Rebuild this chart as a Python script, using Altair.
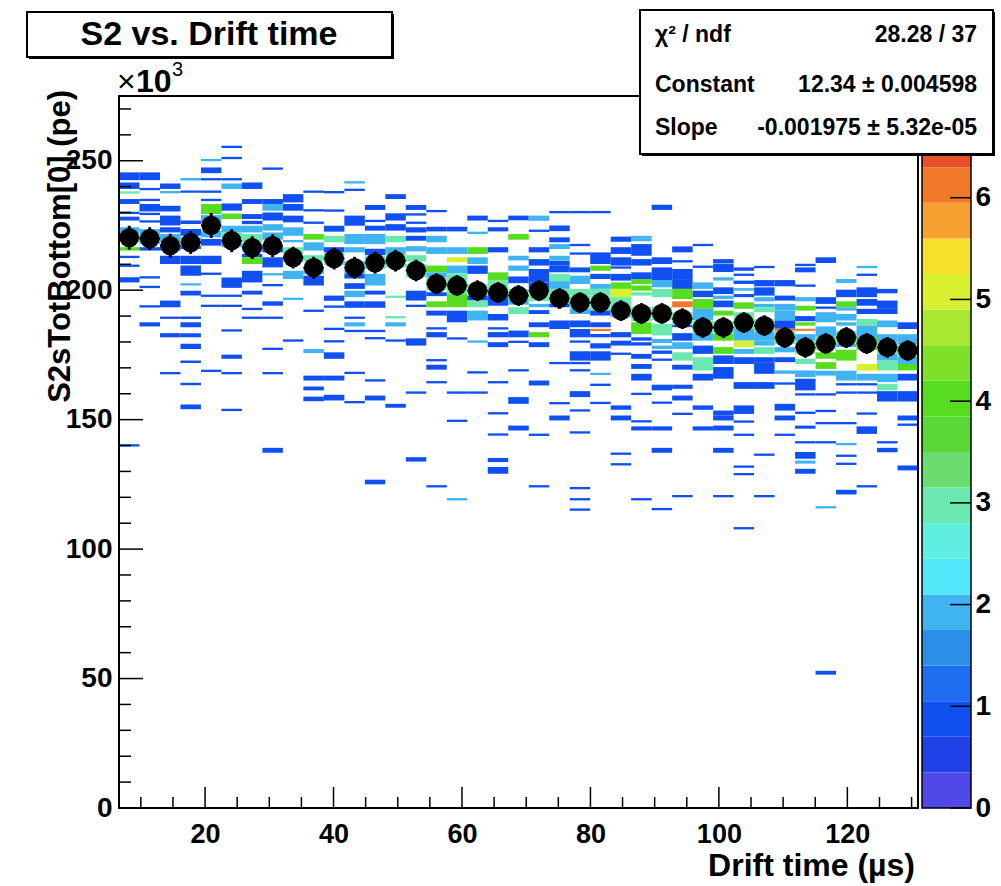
import altair as alt
import pandas as pd

# ---------------- axis ranges / binning ----------------
X_MIN, X_MAX, NXBINS = 6.6, 131.0, 39
Y_MIN, Y_MAX = 0.0, 275.0
Z_MAX, NBANDS = 7.0, 20

x_major = [20, 40, 60, 80, 100, 120]
x_minor = [10, 15, 25, 30, 35, 45, 50, 55, 65, 70, 75, 85, 90, 95, 105, 110, 115, 125, 130]
y_major = [0, 50, 100, 150, 200, 250]
y_minor = [10, 20, 30, 40, 60, 70, 80, 90, 110, 120, 130, 140, 160, 170, 180, 190,
           210, 220, 230, 240, 260, 270]
z_labels = [0, 1, 2, 3, 4, 5, 6]

# profile (black markers): mean of S2 per drift-time bin, in 10^3 pe
profile_mean = [220.3, 219.9, 217.2, 218.4, 225.0, 219.1, 216.4, 217.2, 212.6, 208.7,
                212.2, 208.7, 210.6, 211.4, 207.6, 202.5, 201.8, 199.8, 199.1, 197.9,
                199.8, 196.8, 195.2, 195.2, 192.1, 191.0, 191.0, 189.0, 185.6, 185.6,
                187.5, 186.3, 181.7, 177.9, 179.4, 181.7, 179.4, 177.9, 176.7]
profile_err = [4.6, 4.4, 4.6, 4.4, 4.8, 4.4, 4.4, 4.4, 4.2, 4.2,
               4.2, 4.2, 4.2, 4.2, 4.2, 4.0, 4.0, 4.0, 4.0, 4.0,
               4.0, 4.0, 4.0, 4.0, 4.0, 4.0, 4.0, 4.0, 4.0, 4.0,
               4.0, 4.0, 4.0, 4.0, 4.0, 4.0, 4.0, 4.0, 4.0]

# 2D histogram cells per drift-time column: (y_low, y_high, entries), y in 10^3 pe
col_00 = [(242.5, 245.5, 1), (239.1, 241.6, 1), (237.3, 238.2, 3), (233.3, 235.2, 1), (229.4, 230.3, 1),
          (226.9, 228.4, 1), (221.7, 224.3, 2), (218.5, 221.7, 3), (215.3, 216.6, 4), (212.4, 213.3, 1),
          (209.0, 209.9, 1), (203.0, 205.0, 1), (139.6, 140.5, 1)]
col_01 = [(242.5, 245.5, 1), (238.6, 239.5, 1), (234.4, 235.3, 1), (230.4, 233.3, 1), (229.0, 229.9, 1),
          (226.1, 227.0, 1), (221.0, 223.6, 2), (217.8, 221.0, 2), (215.3, 216.6, 1), (204.5, 205.4, 1),
          (200.8, 201.7, 1), (193.3, 194.2, 1), (186.0, 187.6, 1)]
col_02 = [(239.1, 241.2, 1), (237.4, 238.3, 2), (230.4, 232.6, 1), (225.0, 228.8, 1), (222.3, 224.3, 1),
          (218.5, 221.7, 2), (215.3, 217.8, 1), (210.1, 213.3, 1), (193.4, 196.0, 1), (188.9, 189.8, 1),
          (181.8, 183.4, 1), (167.5, 168.4, 1)]
col_03 = [(242.4, 243.3, 2), (237.6, 238.5, 1), (225.6, 226.9, 1), (221.0, 223.6, 1), (218.5, 220.4, 2),
          (215.9, 217.2, 1), (210.1, 213.3, 1), (205.6, 209.5, 1), (201.8, 202.7, 2), (197.9, 199.8, 1),
          (188.9, 189.8, 1), (185.7, 187.6, 1), (181.8, 183.4, 1), (177.3, 179.3, 1), (171.9, 172.8, 1),
          (163.3, 164.2, 1), (154.0, 155.8, 1)]
col_04 = [(249.8, 250.7, 2), (245.2, 247.4, 1), (242.4, 243.3, 1), (237.6, 238.5, 1), (234.4, 235.3, 1),
          (229.4, 233.3, 4), (226.0, 229.0, 2), (220.4, 223.0, 2), (217.2, 219.8, 1), (210.1, 213.3, 1),
          (205.9, 206.8, 1), (197.4, 198.3, 1), (193.5, 194.4, 1), (168.4, 169.3, 1)]
col_05 = [(254.9, 255.8, 1), (250.6, 251.5, 1), (242.4, 243.3, 1), (239.1, 241.2, 2), (230.7, 233.5, 1),
          (227.5, 229.6, 4), (222.3, 224.9, 2), (220.0, 222.3, 3), (216.6, 218.5, 2), (200.9, 204.9, 1),
          (197.4, 198.3, 1), (193.5, 194.4, 1), (184.0, 184.9, 1), (173.5, 175.1, 1), (167.5, 168.4, 1),
          (153.3, 154.2, 1)]
col_06 = [(239.1, 241.6, 1), (233.3, 235.2, 1), (227.5, 229.4, 1), (225.5, 226.8, 1), (222.3, 224.9, 2),
          (218.5, 221.7, 3), (215.0, 218.0, 2), (212.7, 214.0, 1), (210.1, 212.7, 4), (203.0, 207.5, 1),
          (198.3, 199.8, 1), (192.3, 193.2, 1), (188.9, 189.8, 1)]
col_07 = [(246.5, 247.4, 1), (233.3, 235.2, 1), (230.7, 233.3, 2), (226.9, 230.0, 1), (223.0, 225.5, 2),
          (219.5, 222.3, 2), (214.6, 217.0, 1), (208.8, 212.7, 1), (205.7, 206.6, 2), (201.5, 202.4, 1),
          (194.0, 195.7, 1), (188.9, 189.8, 1), (176.9, 177.8, 1), (167.5, 168.4, 1), (137.2, 139.1, 1)]
col_08 = [(233.9, 237.1, 1), (230.7, 233.3, 1), (226.2, 228.8, 1), (221.0, 224.3, 2), (218.5, 219.4, 2),
          (214.0, 216.6, 3), (211.0, 213.3, 2), (204.3, 207.5, 2), (196.2, 197.1, 2), (180.1, 181.0, 1)]
col_09 = [(237.6, 238.5, 1), (230.4, 231.3, 1), (225.6, 226.5, 1), (219.5, 221.7, 4), (215.3, 218.5, 2),
          (211.0, 213.5, 3), (206.3, 208.8, 2), (201.8, 205.6, 1), (191.6, 192.5, 1), (175.7, 177.3, 2),
          (165.1, 167.0, 1), (161.3, 162.8, 1), (157.1, 158.9, 1)]
col_10 = [(237.4, 238.3, 1), (230.3, 231.2, 1), (222.6, 224.9, 1), (218.5, 221.0, 3), (214.6, 216.6, 1),
          (209.7, 214.6, 3), (195.9, 197.9, 1), (193.2, 194.1, 1), (184.6, 185.5, 1), (179.8, 180.7, 1),
          (173.5, 176.0, 1), (165.1, 167.0, 1), (157.4, 159.6, 1)]
col_11 = [(241.2, 242.1, 2), (238.3, 239.2, 1), (224.9, 228.8, 1), (217.8, 221.7, 2), (214.6, 216.6, 2),
          (206.2, 211.2, 2), (204.5, 206.2, 1), (200.5, 202.7, 1), (197.3, 199.8, 2), (193.2, 195.7, 1),
          (188.9, 189.8, 1), (186.0, 187.6, 2), (183.8, 184.7, 1), (167.6, 168.5, 1), (156.3, 157.2, 1)]
col_12 = [(231.0, 232.9, 1), (226.3, 227.2, 1), (223.0, 224.9, 1), (217.8, 221.7, 2), (213.5, 216.0, 1),
          (208.1, 213.1, 3), (201.8, 206.3, 2), (198.3, 199.8, 1), (193.2, 195.7, 1), (183.8, 184.7, 1),
          (181.0, 181.9, 1), (164.7, 165.6, 1), (157.4, 159.3, 1), (125.0, 126.8, 1)]
col_13 = [(235.2, 237.1, 1), (226.9, 229.7, 1), (223.0, 225.5, 1), (218.5, 221.0, 3), (214.0, 216.6, 2),
          (208.9, 214.0, 3), (197.0, 197.9, 3), (189.1, 190.0, 3), (186.0, 187.6, 2), (180.1, 181.0, 1),
          (154.6, 156.1, 1)]
col_14 = [(231.0, 232.9, 1), (228.8, 229.7, 1), (225.6, 226.5, 1), (222.3, 224.3, 1), (219.1, 221.0, 1),
          (215.0, 217.0, 2), (211.0, 213.5, 3), (205.1, 210.1, 3), (196.0, 199.8, 1), (193.5, 194.4, 1),
          (178.6, 181.4, 1), (160.0, 160.9, 1), (133.8, 135.5, 1)]
col_15 = [(230.1, 231.0, 1), (222.7, 224.5, 1), (218.5, 221.0, 2), (214.0, 216.6, 2), (206.9, 209.5, 4),
          (204.9, 206.9, 2), (200.0, 204.9, 3), (197.7, 199.2, 1), (193.4, 195.7, 4), (190.2, 192.1, 1),
          (184.8, 185.7, 1), (181.8, 183.8, 1), (172.5, 173.4, 1), (169.3, 171.2, 1), (164.0, 164.9, 1),
          (123.8, 124.7, 1)]
col_16 = [(222.7, 224.5, 1), (214.0, 216.6, 2), (210.8, 212.7, 5), (206.5, 209.5, 2), (204.3, 206.5, 3),
          (198.5, 204.3, 3), (193.4, 198.5, 4), (187.6, 192.1, 1), (180.9, 181.8, 1), (160.0, 160.9, 1),
          (149.1, 150.0, 1), (118.8, 119.7, 2)]
col_17 = [(226.9, 228.8, 1), (221.7, 222.6, 2), (214.0, 216.6, 4), (210.1, 212.7, 2), (206.3, 209.5, 1),
          (197.9, 202.3, 3), (196.0, 197.9, 1), (193.4, 196.0, 3), (188.3, 192.1, 2), (179.7, 180.6, 2),
          (167.8, 168.7, 1), (160.0, 160.9, 1)]
col_18 = [(226.3, 227.2, 1), (222.7, 224.3, 1), (214.6, 216.6, 1), (203.7, 206.9, 4), (198.5, 203.7, 3),
          (194.0, 198.5, 1), (188.3, 190.8, 1), (184.8, 185.7, 1), (181.8, 183.8, 1), (178.0, 179.9, 1),
          (164.0, 164.9, 1), (152.0, 152.9, 1), (143.8, 144.7, 1), (133.6, 135.2, 1), (129.1, 131.7, 1)]
col_19 = [(227.0, 228.8, 1), (219.5, 221.7, 4), (211.5, 213.3, 2), (207.5, 209.5, 2), (202.7, 205.3, 1),
          (196.2, 200.5, 3), (194.4, 196.2, 2), (190.8, 193.4, 3), (181.8, 184.4, 1), (179.6, 180.5, 1),
          (168.6, 169.5, 1), (156.1, 158.7, 1), (145.8, 147.7, 1)]
col_20 = [(226.8, 228.8, 2), (222.5, 223.4, 1), (214.6, 216.6, 1), (209.5, 212.0, 1), (203.0, 208.2, 1),
          (200.5, 203.0, 1), (195.8, 200.5, 3), (193.4, 194.7, 2), (190.8, 192.3, 1), (185.7, 187.6, 1),
          (181.8, 183.8, 4), (178.0, 179.9, 1), (163.2, 165.1, 1), (143.7, 144.6, 1), (123.8, 124.7, 1)]
col_21 = [(229.7, 230.6, 1), (222.8, 225.0, 1), (218.5, 220.4, 1), (215.9, 217.8, 2), (211.4, 213.3, 2),
          (209.5, 211.3, 1), (206.9, 209.5, 1), (203.5, 206.3, 3), (200.5, 203.5, 2), (194.7, 200.5, 3),
          (193.4, 194.7, 1), (185.0, 188.3, 1), (171.4, 172.3, 1), (155.9, 156.8, 1), (149.7, 151.6, 1)]
col_22 = [(229.7, 230.6, 1), (217.0, 217.9, 1), (213.7, 214.6, 1), (206.9, 208.8, 1), (202.4, 205.6, 2),
          (197.9, 200.5, 3), (192.8, 197.9, 3), (190.8, 192.8, 2), (185.7, 188.3, 1), (181.8, 185.0, 1),
          (179.7, 180.6, 1), (172.8, 176.4, 1), (171.4, 172.3, 1), (168.6, 169.5, 1), (158.7, 161.0, 1),
          (153.1, 154.0, 1), (144.6, 145.5, 1), (123.1, 124.0, 1), (118.8, 119.7, 1), (114.8, 115.7, 1)]
col_23 = [(229.7, 230.6, 1), (210.1, 214.6, 1), (207.5, 209.5, 4), (204.3, 206.3, 1), (200.5, 202.4, 2),
          (197.9, 200.5, 3), (192.1, 197.9, 3), (190.2, 192.1, 1), (185.7, 187.6, 1), (184.2, 185.1, 6),
          (181.8, 183.1, 1), (177.5, 179.5, 1), (172.8, 176.4, 1), (167.2, 168.1, 2), (163.0, 163.9, 1),
          (156.0, 156.9, 1)]
col_24 = [(218.7, 220.7, 1), (214.0, 216.6, 1), (209.5, 212.7, 1), (208.3, 209.2, 1), (203.7, 206.3, 1),
          (200.5, 203.0, 4), (197.3, 200.5, 5), (190.8, 197.3, 3), (189.5, 190.8, 2), (181.8, 183.8, 1),
          (178.6, 180.5, 1), (175.0, 175.9, 1), (153.8, 155.5, 1), (149.7, 151.6, 1), (136.4, 137.3, 1),
          (132.3, 133.2, 1)]
col_25 = [(220.1, 221.0, 2), (218.9, 220.1, 2), (213.3, 217.8, 1), (209.5, 212.0, 1), (204.3, 206.9, 1),
          (202.4, 204.3, 4), (199.8, 201.8, 4), (197.9, 199.2, 3), (188.0, 193.5, 3), (183.1, 187.6, 4),
          (180.5, 181.8, 1), (178.6, 179.9, 1), (173.5, 175.4, 1), (169.6, 171.5, 1), (165.1, 167.7, 1),
          (159.5, 160.4, 1), (148.9, 149.8, 1), (145.8, 147.4, 1), (118.8, 119.7, 1)]
col_26 = [(231.0, 233.0, 1), (210.1, 212.7, 1), (203.7, 208.8, 1), (201.1, 203.7, 2), (197.3, 200.5, 3),
          (188.5, 193.5, 3), (182.5, 187.0, 3), (179.6, 181.2, 2), (177.3, 178.6, 2), (175.4, 176.7, 1),
          (172.7, 173.6, 1), (161.3, 163.5, 1), (156.1, 157.0, 1), (145.8, 147.4, 1), (137.2, 139.1, 1),
          (115.0, 115.9, 1)]
col_27 = [(214.6, 216.9, 1), (210.7, 211.6, 1), (204.3, 208.2, 1), (200.5, 204.3, 1), (196.6, 200.5, 4),
          (193.4, 195.7, 6), (186.5, 191.5, 3), (185.7, 186.5, 1), (180.5, 183.4, 1), (177.3, 179.9, 2),
          (172.8, 176.0, 3), (169.3, 171.2, 1), (161.9, 163.5, 1), (157.4, 159.3, 1), (151.8, 152.7, 1),
          (120.0, 120.9, 1)]
col_28 = [(217.0, 217.9, 1), (208.6, 209.5, 1), (200.5, 203.0, 2), (197.3, 199.8, 1), (192.8, 196.6, 4),
          (188.3, 192.8, 2), (183.1, 188.1, 3), (180.5, 183.1, 2), (175.4, 178.6, 1), (169.0, 174.1, 3),
          (165.1, 167.7, 1), (153.8, 155.5, 1), (145.8, 147.4, 1)]
col_29 = [(210.3, 212.0, 1), (207.0, 210.1, 1), (203.7, 205.0, 2), (198.5, 201.1, 1), (196.6, 197.9, 2),
          (193.4, 196.0, 1), (190.2, 192.1, 4), (183.1, 188.1, 3), (180.5, 183.1, 4), (175.4, 178.0, 4),
          (171.5, 174.8, 1), (165.8, 170.3, 1), (151.6, 153.5, 1), (149.7, 151.6, 1), (145.8, 147.7, 1),
          (137.2, 139.1, 1), (120.0, 120.9, 1)]
col_30 = [(207.5, 208.8, 1), (205.5, 206.4, 1), (202.4, 203.7, 1), (199.8, 200.8, 2), (197.3, 198.5, 1),
          (192.8, 195.3, 4), (189.8, 191.5, 3), (185.0, 189.8, 3), (180.5, 185.0, 2), (178.0, 180.5, 5),
          (175.4, 177.3, 2), (171.5, 174.1, 1), (161.9, 164.5, 1), (152.2, 155.5, 1), (148.8, 149.7, 1),
          (143.7, 144.6, 1), (131.4, 132.3, 1), (128.5, 129.4, 1), (107.6, 108.5, 1)]
col_31 = [(208.5, 209.4, 1), (201.5, 203.9, 1), (197.9, 201.1, 1), (195.7, 197.3, 2), (193.4, 194.7, 2),
          (191.5, 193.4, 3), (183.8, 188.8, 3), (180.5, 183.8, 2), (178.6, 180.5, 2), (175.4, 178.0, 3),
          (172.2, 174.1, 1), (167.7, 172.2, 1), (161.9, 164.5, 1), (136.0, 136.9, 1), (120.0, 120.9, 1)]
col_32 = [(201.5, 203.9, 1), (196.0, 197.9, 1), (192.1, 194.7, 2), (188.3, 192.1, 2), (185.1, 188.3, 1),
          (184.3, 185.1, 6), (179.2, 184.2, 3), (176.0, 178.0, 2), (172.2, 174.1, 1), (167.7, 169.0, 2),
          (163.5, 164.4, 1), (153.5, 156.1, 1), (149.7, 151.6, 1), (143.7, 144.6, 1)]
col_33 = [(209.3, 210.2, 1), (206.9, 208.8, 1), (201.3, 202.2, 1), (195.7, 197.3, 2), (192.1, 194.0, 4),
          (188.0, 190.0, 1), (186.3, 187.6, 4), (184.3, 185.1, 6), (180.5, 183.0, 2), (175.4, 180.4, 3),
          (171.5, 173.5, 3), (166.4, 169.0, 2), (161.3, 165.8, 1), (159.3, 160.2, 1), (152.2, 153.1, 1),
          (146.5, 147.7, 1), (140.8, 141.7, 1), (134.9, 137.5, 1), (133.0, 134.2, 2), (129.1, 131.0, 1)]
col_34 = [(210.5, 212.7, 1), (194.7, 197.3, 1), (192.8, 193.7, 1), (187.6, 191.5, 2), (182.0, 186.0, 2),
          (176.9, 181.9, 3), (173.5, 176.0, 4), (169.6, 172.2, 4), (167.0, 168.9, 2), (159.3, 160.2, 1),
          (152.9, 153.8, 1), (148.2, 149.1, 1), (140.8, 141.7, 1), (115.7, 116.6, 2), (51.5, 53.0, 1)]
col_35 = [(202.8, 204.3, 2), (197.3, 200.2, 1), (193.4, 195.7, 4), (192.1, 193.4, 2), (188.3, 190.8, 2),
          (186.3, 187.6, 2), (179.2, 184.2, 3), (178.0, 179.2, 2), (172.8, 177.0, 4), (165.1, 168.9, 2),
          (163.2, 164.1, 1), (160.0, 160.9, 1), (148.2, 149.1, 1), (140.1, 141.0, 2), (135.6, 136.5, 1),
          (132.5, 133.4, 1), (121.1, 122.9, 1)]
col_36 = [(208.5, 209.4, 2), (205.5, 206.4, 1), (197.3, 201.1, 1), (194.0, 196.6, 1), (190.8, 192.8, 1),
          (186.3, 188.9, 3), (181.9, 186.3, 2), (176.9, 181.9, 4), (168.9, 171.5, 5), (165.1, 167.7, 2),
          (163.2, 164.1, 1), (160.0, 160.9, 1), (151.9, 152.8, 1), (144.5, 147.4, 1), (123.8, 124.7, 1)]
col_37 = [(198.8, 200.5, 1), (192.8, 196.0, 1), (190.8, 192.8, 1), (185.7, 188.3, 2), (179.9, 183.0, 2),
          (175.4, 179.9, 3), (172.8, 175.4, 2), (169.0, 172.8, 3), (164.5, 167.7, 2), (161.3, 163.8, 3),
          (157.0, 161.0, 1), (140.8, 141.7, 1), (137.4, 139.1, 1)]
col_38 = [(185.0, 187.6, 1), (179.0, 183.0, 2), (174.2, 179.0, 3), (171.5, 174.2, 2), (169.0, 171.5, 4),
          (165.1, 167.7, 1), (157.0, 161.0, 1), (149.7, 151.6, 1), (147.6, 148.5, 1), (130.4, 132.3, 1)]

columns = [col_00, col_01, col_02, col_03, col_04, col_05, col_06, col_07, col_08, col_09,
           col_10, col_11, col_12, col_13, col_14, col_15, col_16, col_17, col_18, col_19,
           col_20, col_21, col_22, col_23, col_24, col_25, col_26, col_27, col_28, col_29,
           col_30, col_31, col_32, col_33, col_34, col_35, col_36, col_37, col_38]

# ROOT-like palette, 20 contour bands from 0 to Z_MAX
band_colors = ["#5048e8", "#2040e8", "#1050f0", "#1e6cf0", "#2c90e8", "#40b4f0", "#50e8f8",
               "#60eee0", "#6ae8b0", "#6adc70", "#5ad838", "#58dc20", "#7ee028", "#a8e830",
               "#d8f030", "#f5e02a", "#f5a030", "#f07a2a", "#e8502a", "#e03020"]

stats_rows = [("\u03c7\u00b2 / ndf", "28.28 / 37"),
              ("Constant", "12.34 \u00b1 0.004598"),
              ("Slope", "-0.001975 \u00b1 5.32e-05")]

# ---------------- build tables ----------------
xw = (X_MAX - X_MIN) / NXBINS
cell_rows = []
for i, col in enumerate(columns):
    xlo = X_MIN + i * xw
    for (ylo, yhi, c) in col:
        cell_rows.append(dict(xlo=xlo, xhi=xlo + xw, ylo=ylo, yhi=yhi, z=c))
cells = pd.DataFrame(cell_rows)

prof = pd.DataFrame(dict(
    xc=[X_MIN + (i + 0.5) * xw for i in range(NXBINS)],
    xl=[X_MIN + i * xw for i in range(NXBINS)],
    xr=[X_MIN + (i + 1) * xw for i in range(NXBINS)],
    m=profile_mean,
    lo=[m - e for m, e in zip(profile_mean, profile_err)],
    hi=[m + e for m, e in zip(profile_mean, profile_err)],
))

bw = Z_MAX / NBANDS
edges = [round(bw * k, 4) for k in range(1, NBANDS)]
cbar = pd.DataFrame(dict(lo=[bw * k for k in range(NBANDS)],
                         hi=[bw * (k + 1) for k in range(NBANDS)],
                         mid=[bw * (k + 0.5) for k in range(NBANDS)]))

# ---------------- geometry (pixels, relative to plot origin) ----------------
PW, PH = 799, 712          # histogram frame
CB_X1, CB_X2 = 803, 852    # colour bar
FONT = "Liberation Sans"
LBL = 27

xs = alt.Scale(domain=[X_MIN, X_MAX], range=[0, PW], nice=False, zero=False)
ys = alt.Scale(domain=[Y_MIN, Y_MAX], nice=False, zero=False)
zs = alt.Scale(domain=[0, Z_MAX], nice=False, zero=False)
cs = alt.Scale(type="threshold", domain=edges, range=band_colors)

xaxis = alt.Axis(values=x_major, ticks=False, domain=False, grid=False, title=None,
                 labelFont=FONT, labelFontWeight="bold", labelFontSize=LBL, labelColor="black",
                 labelPadding=13)
yaxis = alt.Axis(values=y_major, ticks=False, domain=False, grid=False, title=None,
                 labelFont=FONT, labelFontWeight="bold", labelFontSize=LBL + 1, labelColor="black",
                 labelPadding=7)
zaxis = alt.Axis(orient="right", values=z_labels, ticks=False, domain=False, grid=False, title=None,
                 labelFont=FONT, labelFontWeight="bold", labelFontSize=LBL + 1, labelColor="black",
                 labelPadding=4)

one = pd.DataFrame({"a": [0]})


def text(s, x, y, size, align="left", baseline="alphabetic", angle=0, weight="bold"):
    return alt.Chart(pd.DataFrame({"t": [s]})).mark_text(
        align=align, baseline=baseline, fontSize=size, fontWeight=weight, font=FONT,
        angle=angle, color="black").encode(x=alt.value(x), y=alt.value(y), text="t:N")


def box(x1, y1, x2, y2, fill="white", stroke="black", sw=2.0, fo=1.0):
    return alt.Chart(one).mark_rect(fill=fill, fillOpacity=fo, stroke=stroke, strokeWidth=sw).encode(
        x=alt.value(x1), x2=alt.value(x2), y=alt.value(y1), y2=alt.value(y2))


hist = alt.Chart(cells).mark_rect().encode(
    x=alt.X("xlo:Q", scale=xs, axis=xaxis), x2="xhi:Q",
    y=alt.Y("ylo:Q", scale=ys, axis=yaxis), y2="yhi:Q",
    color=alt.Color("z:Q", scale=cs, legend=None))

herr = alt.Chart(prof).mark_rule(color="black", strokeWidth=2).encode(
    x=alt.X("xl:Q", scale=xs, axis=xaxis), x2="xr:Q",
    y=alt.Y("m:Q", scale=ys, axis=None))
verr = alt.Chart(prof).mark_rule(color="black", strokeWidth=3).encode(
    x=alt.X("xc:Q", scale=xs, axis=xaxis),
    y=alt.Y("lo:Q", scale=ys, axis=None), y2="hi:Q")
points = alt.Chart(prof).mark_point(filled=True, shape="circle", size=380, color="black", opacity=1).encode(
    x=alt.X("xc:Q", scale=xs, axis=xaxis), y=alt.Y("m:Q", scale=ys, axis=None))

xt_major = alt.Chart(pd.DataFrame({"v": x_major})).mark_rule(color="black", strokeWidth=1.5).encode(
    x=alt.X("v:Q", scale=xs, axis=xaxis), y=alt.value(PH), y2=alt.value(PH - 21))
xt_minor = alt.Chart(pd.DataFrame({"v": x_minor})).mark_rule(color="black", strokeWidth=1.5).encode(
    x=alt.X("v:Q", scale=xs, axis=xaxis), y=alt.value(PH), y2=alt.value(PH - 11))
yt_major = alt.Chart(pd.DataFrame({"v": y_major})).mark_rule(color="black", strokeWidth=1.5).encode(
    y=alt.Y("v:Q", scale=ys, axis=None), x=alt.value(0), x2=alt.value(24))
yt_minor = alt.Chart(pd.DataFrame({"v": y_minor})).mark_rule(color="black", strokeWidth=1.5).encode(
    y=alt.Y("v:Q", scale=ys, axis=None), x=alt.value(0), x2=alt.value(12))

colorbar = alt.Chart(cbar).mark_rect().encode(
    x=alt.value(CB_X1), x2=alt.value(CB_X2),
    y=alt.Y("lo:Q", scale=zs, axis=zaxis), y2="hi:Q",
    color=alt.Color("mid:Q", scale=cs, legend=None))
cb_ticks = alt.Chart(pd.DataFrame({"v": z_labels})).mark_rule(color="black", strokeWidth=1.5).encode(
    y=alt.Y("v:Q", scale=zs, axis=None), x=alt.value(CB_X2 - 21), x2=alt.value(CB_X2))

frame = box(0, 0, PW, PH, fill="white", fo=0.0, sw=2)
cb_frame = box(CB_X1, 0, CB_X2, PH, fill="white", fo=0.0, sw=1.5)

# title box
title_shadow = box(-90, -82, 275, -37, fill="black", stroke="black", sw=0)
title_box = box(-92, -84, 273, -39, fill="white", sw=2)
title_txt = text("S2 vs. Drift time", 90, -51, 34, align="center")

# exponent and axis titles
exp_x = text("\u00d7", -2, -4, 32, weight="normal")
exp_txt = text("10", 17, -4, 32)
exp_sup = text("3", 53, -20, 20, weight="normal")
ytitle = text("S2sTotBottom[0] (pe)", -58, -6, 31, align="right", baseline="middle", angle=270)
xtitle = text("Drift time (\u00b5s)", 796, 780, 32, align="right")

# stats box
st_shadow = box(523, -84, 876, 60, fill="black", stroke="black", sw=0)
st_box = box(521, -86, 874, 58, fill="white", sw=2)
st_layers = []
for (lab, val), yb in zip(stats_rows, [-54, -4, 39]):
    st_layers.append(text(lab, 536, yb, 23))
    st_layers.append(text(val, 858, yb, 23, align="right"))

chart = alt.layer(
    hist, herr, verr, points,
    xt_major, xt_minor, yt_major, yt_minor,
    colorbar, cb_ticks, frame, cb_frame,
    title_shadow, title_box, title_txt, exp_x, exp_txt, exp_sup, ytitle, xtitle,
    st_shadow, st_box, *st_layers
).resolve_scale(y="independent").properties(
    width=852, height=PH,
    autosize=alt.AutoSizeParams(type="none"),
    padding={"left": 119, "top": 96, "right": 30, "bottom": 78},
    background="white",
).configure_view(stroke=None)

chart.save("out.html", embed_options={"renderer": "svg", "actions": False})
